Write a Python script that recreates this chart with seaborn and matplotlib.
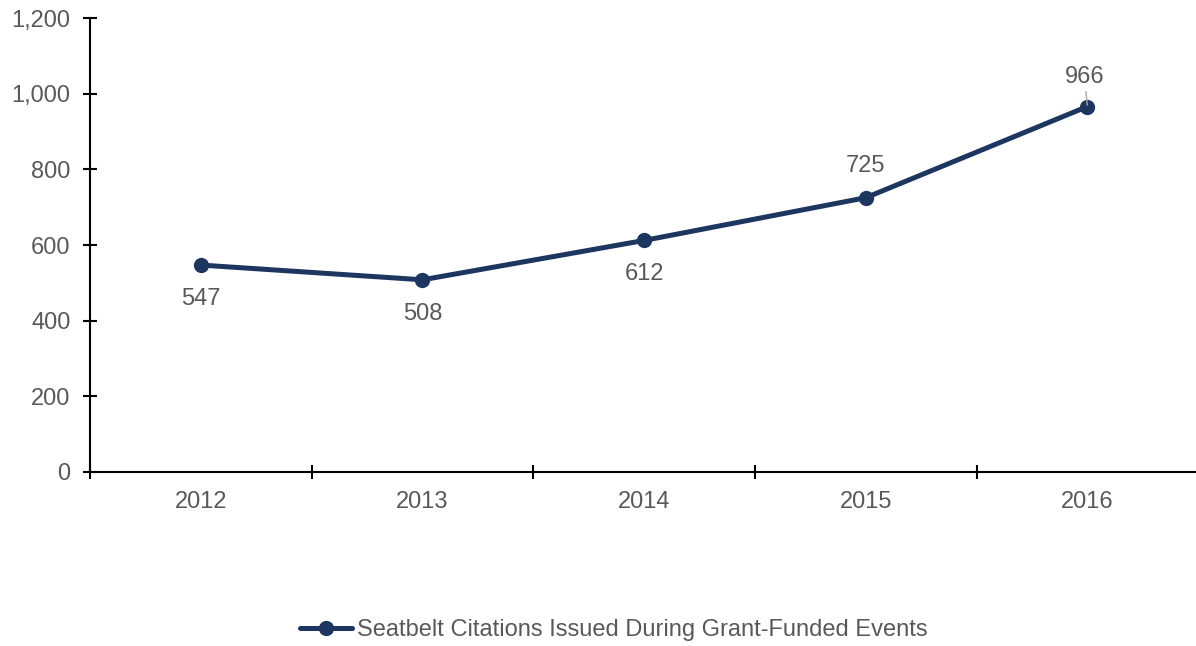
import matplotlib
matplotlib.use("Agg")
import matplotlib.pyplot as plt
import seaborn as sns
import pandas as pd
from matplotlib.ticker import FuncFormatter, FixedLocator

years = ["2012", "2013", "2014", "2015", "2016"]
citations = [547, 508, 612, 725, 966]
series_name = "Seatbelt Citations Issued During Grant-Funded Events"
label_pos = ["below", "below", "below", "above", "above"]

sns.set_theme(style="white")
plt.rcParams["font.family"] = ["Liberation Sans", "DejaVu Sans"]

LINE = "#1D3660"
TXT = "#595959"

df = pd.DataFrame({"Year": years, "Citations": citations, "Series": series_name})

fig = plt.figure(figsize=(11.96, 6.46), dpi=100)
ax = fig.add_axes([90 / 1196, 1 - 472 / 646, 1 - 90 / 1196, (472 - 18) / 646])

sns.lineplot(data=df, x="Year", y="Citations", hue="Series", palette=[LINE],
             marker="o", markersize=11, linewidth=3.6, markeredgewidth=0,
             ax=ax, legend=True, sort=False)

ax.set_ylim(0, 1200)
ax.set_xlim(-0.5, 4.49)
ax.set_yticks(range(0, 1201, 200))
ax.yaxis.set_major_formatter(FuncFormatter(lambda v, p: f"{int(v):,}"))
ax.set_xticks(range(len(years)))
ax.set_xticklabels(years)
ax.xaxis.set_minor_locator(FixedLocator([i - 0.5 for i in range(len(years) + 1)]))
ax.tick_params(bottom=True, left=True, which="both")
ax.tick_params(axis="x", which="major", length=0, pad=14, labelsize=17, labelcolor=TXT)
ax.tick_params(axis="x", which="minor", direction="inout", length=10, width=1.5, color="black")
ax.tick_params(axis="y", which="major", direction="inout", length=10, width=1.5,
               color="black", pad=9, labelsize=17, labelcolor=TXT)
ax.set_xlabel("")
ax.set_ylabel("")
for s in ["top", "right"]:
    ax.spines[s].set_visible(False)
for s in ["left", "bottom"]:
    ax.spines[s].set_color("black")
    ax.spines[s].set_linewidth(1.5)

for i, (v, pos) in enumerate(zip(citations, label_pos)):
    if i == len(citations) - 1:
        ax.annotate(f"{v:,}", xy=(i, v), xytext=(-2, 21), textcoords="offset points",
                    ha="center", va="center", fontsize=17, color=TXT,
                    arrowprops=dict(arrowstyle="-", color="#A6A6A6", lw=1,
                                    shrinkA=0, shrinkB=1))
    else:
        dy = -24.5 if pos == "below" else 23
        ax.annotate(f"{v:,}", xy=(i, v), xytext=(0, dy), textcoords="offset points",
                    ha="center", va="center", fontsize=17, color=TXT)

handles, labels = ax.get_legend_handles_labels()
ax.get_legend().remove()
fig.legend(handles, labels, loc="center", bbox_to_anchor=(614 / 1196, 1 - 630 / 646),
           frameon=False, fontsize=17, labelcolor=TXT, handlelength=2.2,
           handletextpad=0.2)

fig.savefig("out.png", dpi=100)
